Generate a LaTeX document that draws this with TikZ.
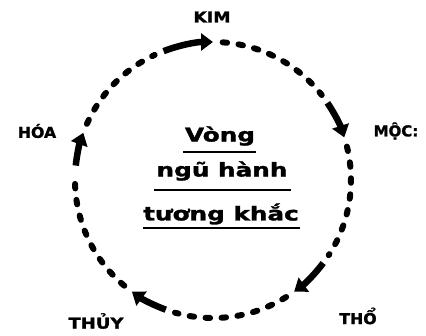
\documentclass[tikz,border=0pt]{standalone}
\usepackage{fontspec}
\setmainfont{DejaVu Sans}
\newfontfamily\heavyfont{DejaVu Sans Bold}[FakeBold=1.5]
\usetikzlibrary{arrows.meta}
\begin{document}
\begin{tikzpicture}[x=1pt,y=1pt,
  dotarc/.style={line width=6pt,line cap=round,dash pattern=on 4.5pt off 11.5pt},
  elarrow/.style={line width=6.5pt,-{Triangle[length=12pt,width=17pt]}},
  elabel/.style={font=\heavyfont\fontsize{15}{15}\selectfont},
  titletext/.style={font=\heavyfont\fontsize{19}{19}\selectfont},
  uline/.style={line width=2.8pt}]
\useasboundingbox (0,0) rectangle (426,335);
\begin{scope}[shift={(213,155)}]
% arrow tails on the circle
\coordinate (kimT) at (111:138);
\coordinate (mocT) at (34:138);
\coordinate (thoT) at (-37:138);
\coordinate (thuyT) at (-110:138);
\coordinate (hoaT) at (174:138);
% arrows
\draw[elarrow] (kimT) arc[start angle=111, end angle=90, radius=138];
\draw[elarrow] (mocT) arc[start angle=34, end angle=18, radius=138];
\draw[elarrow] (thoT) arc[start angle=-37, end angle=-54, radius=138];
\draw[elarrow] (thuyT) arc[start angle=-110, end angle=-126, radius=138];
\draw[elarrow] (hoaT) arc[start angle=174, end angle=160, radius=138];
% dotted arcs
\coordinate (d1) at (86:138);
\coordinate (d2) at (14:138);
\coordinate (d3) at (-58:138);
\coordinate (d4) at (-130:138);
\coordinate (d5) at (156:138);
\draw[dotarc] (d1) arc[start angle=86, end angle=38, radius=138];
\draw[dotarc] (d2) arc[start angle=14, end angle=-33, radius=138];
\draw[dotarc] (d3) arc[start angle=-58, end angle=-106, radius=138];
\draw[dotarc] (d4) arc[start angle=-130, end angle=-183, radius=138];
\draw[dotarc] (d5) arc[start angle=156, end angle=115, radius=138];
\end{scope}
% labels
\node[elabel] (kim) at (212,318) {\scalebox{1.15}[1]{KIM}};
\node[elabel] (moc) at (396,204) {\scalebox{1.0}[1]{MỘC:}};
\node[elabel] (tho) at (358,19) {\scalebox{1.05}[1]{THỔ}};
\node[elabel] (thuy) at (96,14) {\scalebox{1.2}[1]{THỦY}};
\node[elabel] (hoa) at (37,204) {\scalebox{1.05}[1]{HÓA}};
% title
\node[titletext] (t1) at (220,199) {\scalebox{1.3}[1]{Vòng}};
\node[titletext] (t2) at (222,164) {\scalebox{1.3}[1]{ngũ hành}};
\node[titletext] (t3) at (221,121) {\scalebox{1.3}[1]{tương khắc}};
\draw[uline] (183,183) -- (256,183);
\draw[uline] (154,145) -- (291,145);
\draw[uline] (143,107) -- (300,107);
\end{tikzpicture}
\end{document}
